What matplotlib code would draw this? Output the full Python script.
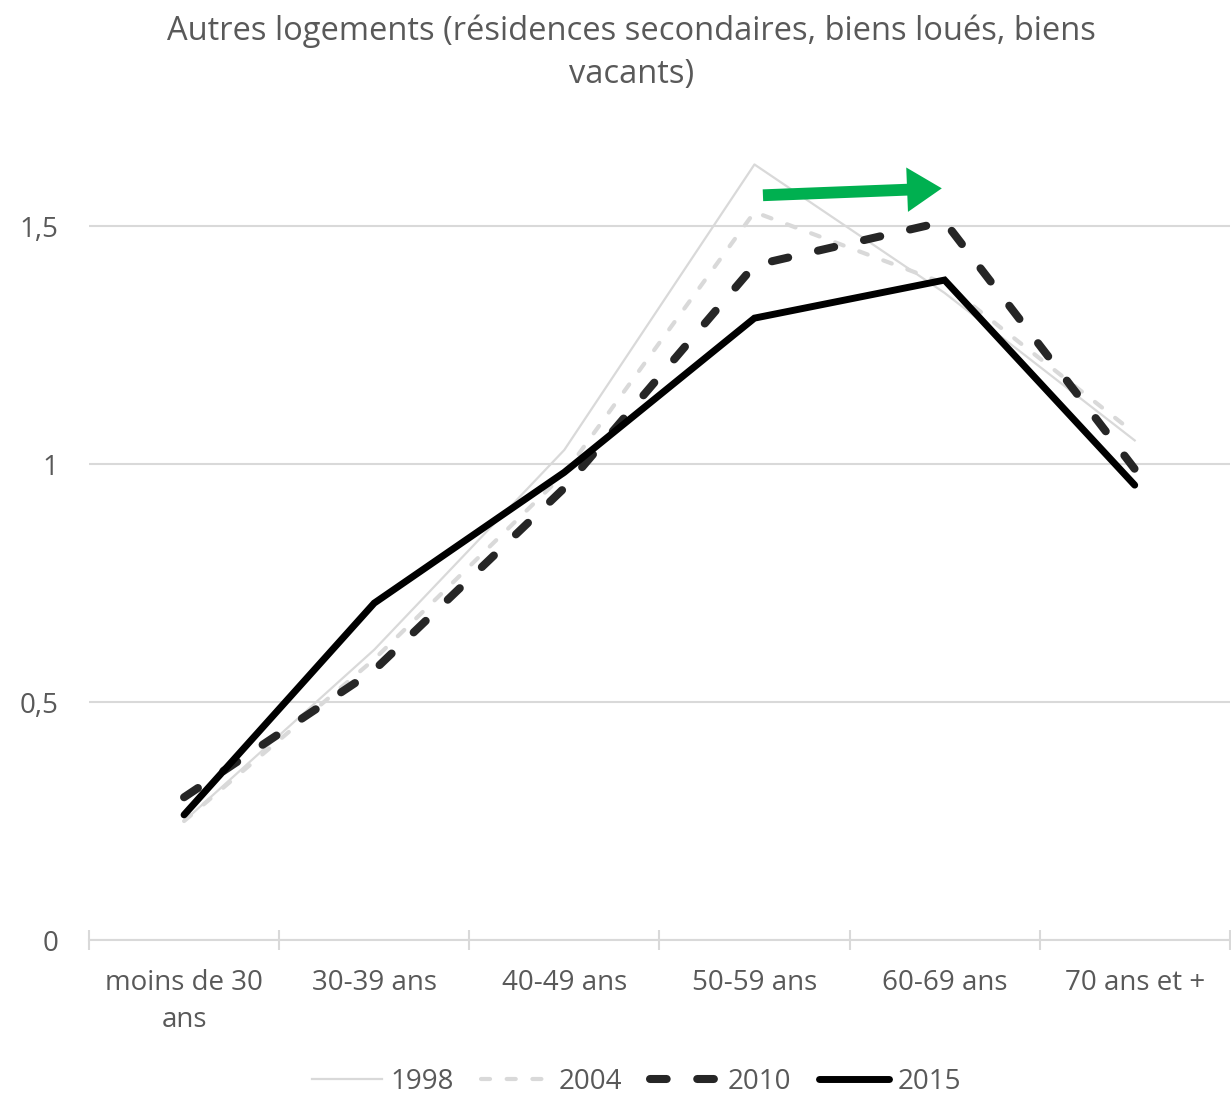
import numpy as np
import matplotlib
matplotlib.use("Agg")
import matplotlib.pyplot as plt
from matplotlib.patches import FancyArrowPatch
from matplotlib.ticker import FixedLocator

plt.rcParams['font.family'] = ['Open Sans', 'DejaVu Sans']
plt.rcParams['lines.scale_dashes'] = False

# Données par tranche d'âge
categories = ["moins de 30\nans", "30-39 ans", "40-49 ans", "50-59 ans", "60-69 ans", "70 ans et +"]
v1998 = [0.25, 0.61, 1.03, 1.63, 1.36, 1.05]
v2004 = [0.25, 0.59, 0.98, 1.53, 1.38, 1.065]
v2010 = [0.30, 0.567, 0.95, 1.418, 1.51, 0.99]
v2015 = [0.263, 0.708, 0.983, 1.307, 1.387, 0.956]
# flèche verte (début -> fin)
arrow_x = [3.03, 4.0]
arrow_y = [1.565, 1.58]

txt_col = '#595959'
grid_col = '#d9d9d9'

fig = plt.figure(figsize=(12.31, 11.02), dpi=100)
ax = fig.add_axes([0.0723, 0.147, 0.9267, 0.734])

x = np.arange(len(categories))

ax.plot(x, v1998, color='#d9d9d9', lw=1.6, solid_joinstyle='round', label='1998', zorder=3)
ax.plot(x, v2004, color='#d9d9d9', lw=3.0, dashes=(6.5, 12), dash_capstyle='round',
        label='2004', zorder=3)
ax.plot(x, v2010, color='#262626', lw=5.8, dashes=(12, 22), dash_capstyle='round',
        label='2010', zorder=4)
ax.plot(x, v2015, color='black', lw=5.0, solid_joinstyle='miter', solid_capstyle='round',
        label='2015', zorder=5)

arr = FancyArrowPatch((arrow_x[0], arrow_y[0]), (arrow_x[1], arrow_y[1]),
                      arrowstyle='simple,head_length=2.5,head_width=3.2,tail_width=0.85',
                      mutation_scale=10, color='#00b050', lw=0, zorder=6)
ax.add_patch(arr)

ax.set_xlim(-0.5, 5.5)
ax.set_ylim(0, 1.7)
ax.set_yticks([0, 0.5, 1, 1.5])
ax.set_yticklabels(['0', '0,5', '1', '1,5'])
ax.yaxis.grid(True, color=grid_col, lw=1.5)
ax.set_axisbelow(True)

ax.set_xticks(x)
ax.set_xticklabels(categories, linespacing=1.4)
ax.xaxis.set_minor_locator(FixedLocator(np.arange(-0.5, 6, 1)))
ax.tick_params(axis='x', which='major', length=0, pad=21, labelsize=20, labelcolor=txt_col)
ax.tick_params(axis='x', which='minor', direction='inout', length=14, width=1.5, color=grid_col)
ax.tick_params(axis='y', length=0, pad=22, labelsize=20, labelcolor=txt_col)

for s in ['top', 'right', 'left']:
    ax.spines[s].set_visible(False)
ax.spines['bottom'].set_color(grid_col)
ax.spines['bottom'].set_linewidth(1.5)

fig.text(0.513, 0.987, "Autres logements (résidences secondaires, biens loués, biens\nvacants)",
         ha='center', va='top', fontsize=23.5, color=txt_col, linespacing=1.42)

fig.legend(loc='center', bbox_to_anchor=(0.517, 0.018), ncol=4, frameon=False,
           fontsize=20, labelcolor=txt_col, handlelength=2.5, handletextpad=0.3,
           columnspacing=1.0)

fig.savefig('out.png', dpi=100)
